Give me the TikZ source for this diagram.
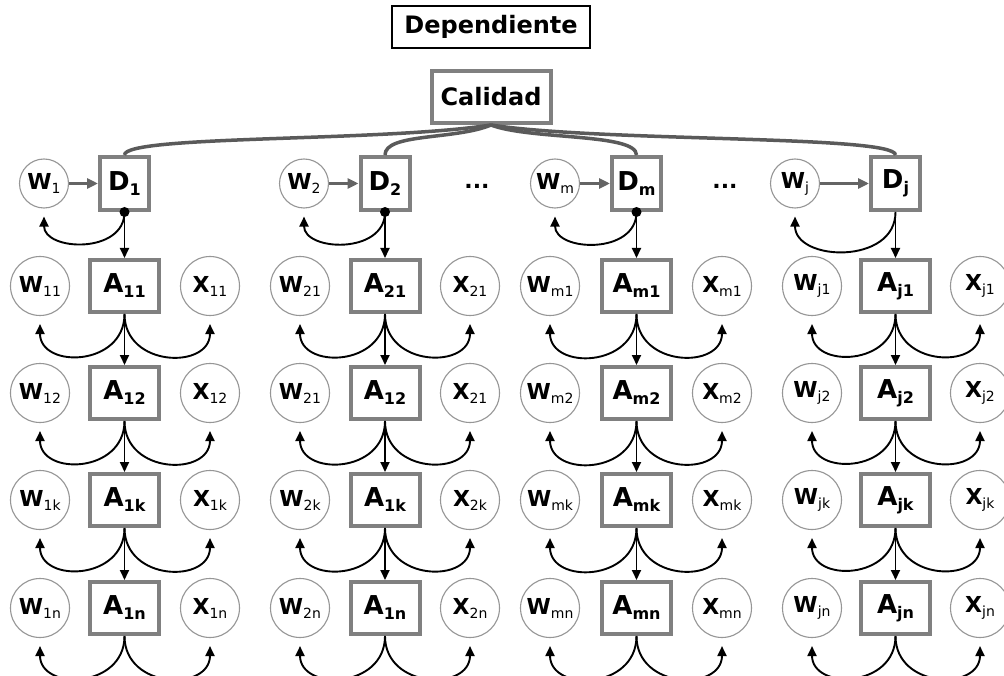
\documentclass[tikz,border=0pt]{standalone}
\usepackage{fontspec}
\setmainfont{DejaVu Sans}
\usetikzlibrary{arrows.meta}
\definecolor{boxgray}{RGB}{128,128,128}
\definecolor{cgray}{RGB}{150,150,150}
\definecolor{lgray}{RGB}{90,90,90}
\definecolor{agray}{RGB}{100,100,100}
\newcommand{\albl}[2]{{\fontsize{26}{26}\selectfont\bfseries #1\raisebox{-5pt}{\fontsize{16}{16}\selectfont #2}}}
\newcommand{\clbl}[2]{{\fontsize{22}{22}\selectfont\bfseries #1\raisebox{-4pt}{\fontsize{14}{14}\selectfont\mdseries #2}}}
\tikzset{
  abox/.style={draw=boxgray, line width=4pt, minimum width=69pt, minimum height=52pt, inner sep=0pt, fill=white},
  dbox/.style={abox, minimum width=49pt, minimum height=53pt},
  cir/.style={circle, draw=cgray, line width=1.1pt, minimum size=59pt, inner sep=0pt, fill=white},
  dcir/.style={cir, minimum size=49pt},
  blk/.style={-{Triangle[length=10pt,width=9pt]}, line width=1.9pt, black},
  curv/.style={blk, shorten >=8pt},
  gar/.style={-{Triangle[length=11pt,width=10pt]}, line width=3.5pt, draw=agray, fill=agray},
  cline/.style={line width=3.5pt, draw=lgray},
}
\newcommand{\arow}[8]{%
  \node[cir] (W#1) at (#2,#5) {\clbl{W}{#6}};
  \node[abox] (A#1) at (#3,#5) {\albl{A}{#7}};
  \node[cir] (X#1) at (#4,#5) {\clbl{X}{#8}};
  \draw[curv] (A#1.south) to[out=-90,in=-90,looseness=1.6] (W#1.south);
  \draw[curv] (A#1.south) to[out=-90,in=-90,looseness=1.6] (X#1.south);
}
\begin{document}
\begin{tikzpicture}[x=1pt,y=1pt]
\useasboundingbox[fill=white] (0,0) rectangle (1004,-676);
% top
\node[draw=black, line width=1.2pt, minimum width=198pt, minimum height=42pt, inner sep=0pt] (dep) at (491,-27) {\fontsize{24}{24}\selectfont\bfseries Dependiente};
\node[abox, minimum width=119pt, minimum height=52pt] (cal) at (491,-97) {\fontsize{24}{24}\selectfont\bfseries Calidad};
% D row
\node[dbox] (D1) at (124.5,-183.5) {\albl{D}{1}};
\node[dbox] (D2) at (385,-183.5) {\albl{D}{2}};
\node[dbox] (D3) at (636.5,-183.5) {\albl{D}{m}};
\node[dbox] (D4) at (895.5,-183.5) {\albl{D}{j}};
\node[dcir] (V1) at (44,-183.5) {\clbl{W}{1}};
\node[dcir] (V2) at (304,-183.5) {\clbl{W}{2}};
\node[dcir] (V3) at (555,-183.5) {\clbl{W}{m}};
\node[dcir] (V4) at (795,-183.5) {\clbl{W}{j}};
\node (dots1) at (477,-186) {\fontsize{22}{22}\selectfont\bfseries ...};
\node (dots2) at (725,-186) {\fontsize{22}{22}\selectfont\bfseries ...};
% Calidad connections
\draw[cline] (cal.south) .. controls +(-111,-17) and +(0,20) .. (D1.north);
\draw[cline] (cal.south) .. controls +(-36,-15) and +(0,22) .. (D2.north);
\draw[cline] (cal.south) .. controls +(39,-15) and +(0,22) .. (D3.north);
\draw[cline] (cal.south) .. controls +(109,-17) and +(0,20) .. (D4.north);
% W -> D
\foreach \i in {1,...,4} {
  \draw[gar] (V\i.east) -- (D\i.west);
}
% A rows
\arow{1-1}{40}{124.5}{210}{-286}{11}{11}{11}
\arow{1-2}{40}{124.5}{210}{-393}{12}{12}{12}
\arow{1-3}{40}{124.5}{210}{-500}{1k}{1k}{1k}
\arow{1-4}{40}{124.5}{210}{-608}{1n}{1n}{1n}
\arow{2-1}{300}{385}{470}{-286}{21}{21}{21}
\arow{2-2}{300}{385}{470}{-393}{21}{12}{21}
\arow{2-3}{300}{385}{470}{-500}{2k}{1k}{2k}
\arow{2-4}{300}{385}{470}{-608}{2n}{1n}{2n}
\arow{3-1}{550}{636.5}{722}{-286}{m1}{m1}{m1}
\arow{3-2}{550}{636.5}{722}{-393}{m2}{m2}{m2}
\arow{3-3}{550}{636.5}{722}{-500}{mk}{mk}{mk}
\arow{3-4}{550}{636.5}{722}{-608}{mn}{mn}{mn}
\arow{4-1}{812}{895.5}{980}{-286}{j1}{j1}{j1}
\arow{4-2}{812}{895.5}{980}{-393}{j2}{j2}{j2}
\arow{4-3}{812}{895.5}{980}{-500}{jk}{jk}{jk}
\arow{4-4}{812}{895.5}{980}{-608}{jn}{jn}{jn}
% D -> A and D -> W
\foreach \i in {1,...,4} {
  \draw[blk] (D\i.south) -- (A\i-1.north);
  \draw[curv] (D\i.south) to[out=-90,in=-90,looseness=1.35] (V\i.south);
}
\foreach \i in {1,2,3} {
  \fill (D\i.south) circle (5pt);
}
% vertical arrows between A boxes
\foreach \c in {1,...,4} {
  \draw[blk] (A\c-1.south) -- (A\c-2.north);
  \draw[blk] (A\c-2.south) -- (A\c-3.north);
  \draw[blk] (A\c-3.south) -- (A\c-4.north);
}
\end{tikzpicture}
\end{document}
